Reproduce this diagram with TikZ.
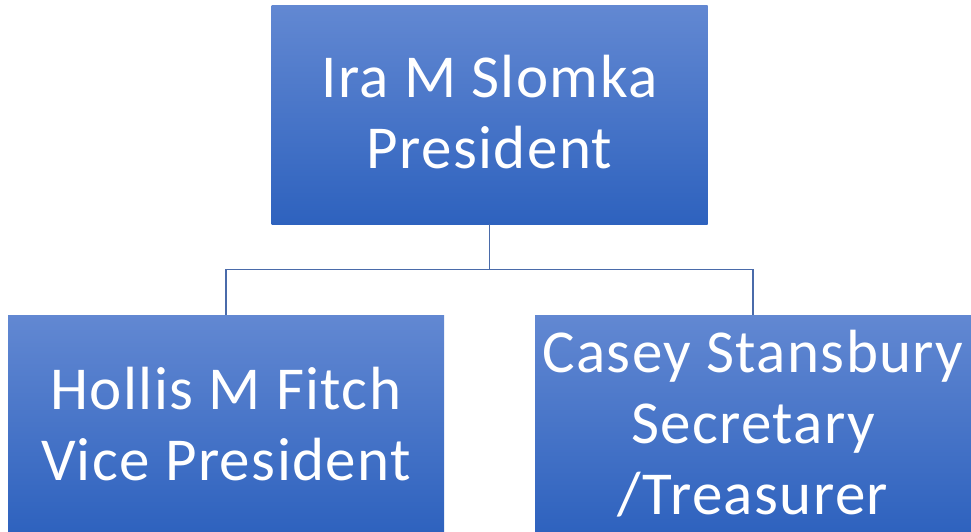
\documentclass[tikz,border=0pt]{standalone}
\usepackage{fontspec}
\setmainfont{Carlito}
\newfontfamily\boxfont[LetterSpace=2.3]{Carlito}
\definecolor{boxtop}{HTML}{6288D2}
\definecolor{boxbot}{HTML}{2E62BE}
\definecolor{connc}{HTML}{4A6BAA}
\newcommand{\upline}[1]{\raisebox{3pt}[\height][\depth]{#1}}
\begin{document}
\begin{tikzpicture}[x=1pt,y=-1pt,
  box/.style={draw=none, top color=boxtop, bottom color=boxbot, text=white,
    align=center, minimum width=436pt, minimum height=218pt, inner sep=0pt,
    font=\boxfont\fontsize{61}{71}\selectfont},
  conn/.style={draw=connc, line width=1.3pt}]
\useasboundingbox (0,0) rectangle (971,532);
\node[box] (p) at (489.5,115) {\upline{Ira M Slomka}\\\upline{President}};
\node[box] (v) at (226,424) {Hollis M Fitch\\Vice President};
\node[box] (s) at (753,424) {Casey Stansbury\\Secretary\\/Treasurer};
\draw[conn] (p.south) -- ++(0,45) -| (v.north);
\draw[conn] (p.south) -- ++(0,45) -| (s.north);
\end{tikzpicture}
\end{document}
